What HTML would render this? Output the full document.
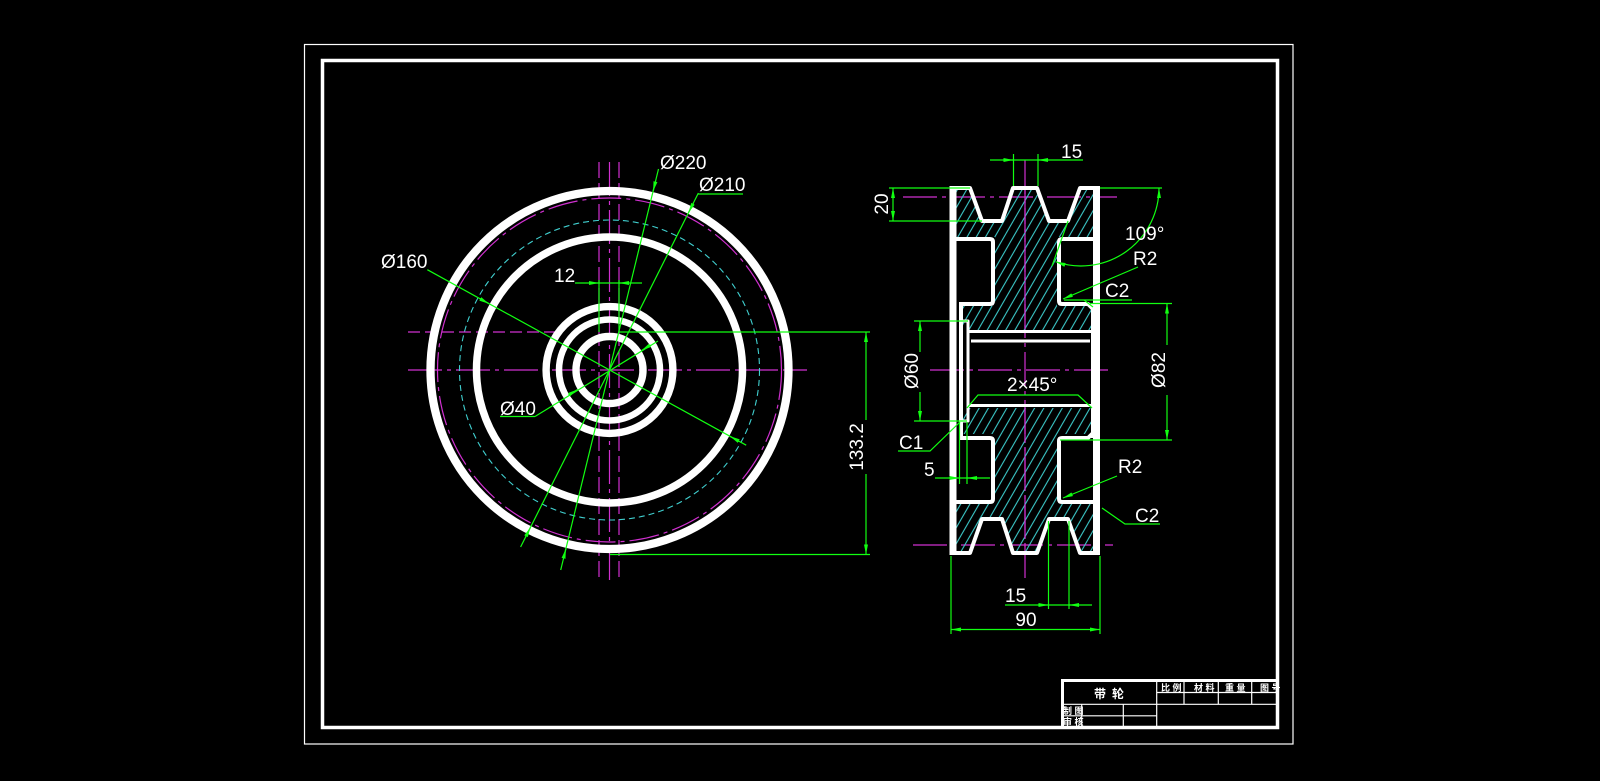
<!DOCTYPE html>
<html><head><meta charset="utf-8"><style>html,body{margin:0;padding:0;background:#000;}svg{display:block;}</style></head>
<body>
<svg width="1600" height="781" viewBox="0 0 1600 781" xmlns="http://www.w3.org/2000/svg">
<defs>
<pattern id="h" patternUnits="userSpaceOnUse" width="8" height="8" patternTransform="rotate(30)"><line x1="4" y1="-1" x2="4" y2="9" stroke="#3cc8c8" stroke-width="1.1"/></pattern>
<marker id="a" viewBox="0 0 10 4" refX="10" refY="2" markerWidth="10" markerHeight="4" markerUnits="userSpaceOnUse" orient="auto-start-reverse"><path d="M0,0L10,2L0,4z" fill="#1f1"/></marker>
</defs>
<rect width="1600" height="781" fill="#000"/>

<!-- frames -->
<rect x="304.5" y="44.5" width="988.5" height="699.5" stroke="#fff" stroke-width="1.2" fill="none"/>
<rect x="322.5" y="60.5" width="955" height="667" stroke="#fff" stroke-width="3.5" fill="none"/>

<!-- ===== LEFT VIEW ===== -->
<g fill="none" stroke="#d030d0" stroke-width="1.2">
<line x1="408" y1="370" x2="807" y2="370" stroke-dasharray="34,5,4,5"/>
<line x1="408" y1="332" x2="557" y2="332" stroke-dasharray="12,5"/>
<line x1="609.5" y1="162" x2="609.5" y2="580" stroke-dasharray="34,5,4,5"/>
<line x1="599" y1="162" x2="599" y2="580" stroke-dasharray="16,5"/>
<line x1="619" y1="162" x2="619" y2="580" stroke-dasharray="16,5"/>
<circle cx="609.5" cy="370" r="172" stroke-dasharray="30,5,4,5"/>
</g>
<circle cx="609.5" cy="370" r="150" fill="none" stroke="#40d0d0" stroke-width="1.1" stroke-dasharray="6,4"/>
<g fill="none" stroke="#fff">
<circle cx="609.5" cy="370" r="179" stroke-width="8.3"/>
<circle cx="609.5" cy="370" r="133" stroke-width="7.5"/>
<circle cx="609.5" cy="370" r="63.4" stroke-width="7.4"/>
<circle cx="609.5" cy="370" r="50.5" stroke-width="6.5"/>
<circle cx="609.5" cy="370" r="33.5" stroke-width="7.4"/>
</g>

<!-- left view dimensions -->
<g fill="none" stroke="#1f1" stroke-width="1.2">
<!-- Ø220 -->
<line x1="658.5" y1="169" x2="560.7" y2="570"/>
<line x1="655.7" y1="180.7" x2="653.1" y2="191.3" marker-end="url(#a)"/>
<line x1="563.3" y1="559.3" x2="565.9" y2="548.7" marker-end="url(#a)"/>
<!-- Ø210 -->
<line x1="698.4" y1="193" x2="520.6" y2="547"/>
<line x1="698" y1="194" x2="743" y2="194"/>
<line x1="693.5" y1="202.8" x2="688.5" y2="212.7" marker-end="url(#a)"/>
<line x1="525.5" y1="537.2" x2="530.5" y2="527.3" marker-end="url(#a)"/>
<!-- Ø160 -->
<line x1="427.3" y1="269.7" x2="746.2" y2="445.2"/>
<line x1="479.9" y1="298.7" x2="489" y2="303.7" marker-end="url(#a)"/>
<line x1="739.1" y1="441.3" x2="730" y2="436.3" marker-end="url(#a)"/>
<!-- Ø40 -->
<line x1="658" y1="341" x2="535" y2="416.5"/>
<line x1="500" y1="416.5" x2="535" y2="416.5"/>
<line x1="650.5" y1="345" x2="641.5" y2="350.5" marker-end="url(#a)"/>
<line x1="568.5" y1="395" x2="577.5" y2="389.5" marker-end="url(#a)"/>
<!-- 12 -->
<line x1="575" y1="283" x2="642" y2="283"/>
<line x1="589" y1="283" x2="599" y2="283" marker-end="url(#a)"/>
<line x1="629" y1="283" x2="619" y2="283" marker-end="url(#a)"/>
<line x1="599" y1="280" x2="599" y2="332"/>
<line x1="619" y1="280" x2="619" y2="332"/>
<!-- 133.2 -->
<line x1="619" y1="332" x2="870" y2="332"/>
<line x1="610" y1="554.5" x2="870" y2="554.5"/>
<line x1="866" y1="332" x2="866" y2="420" marker-start="url(#a)"/>
<line x1="866" y1="474" x2="866" y2="554.5" marker-end="url(#a)"/>
</g>
<g font-family="Liberation Sans, Arial, sans-serif" font-size="19" fill="#fff">
<text x="660" y="169">Ø220</text>
<text x="699" y="191">Ø210</text>
<text x="381" y="268">Ø160</text>
<text x="554" y="282">12</text>
<text x="500" y="415">Ø40</text>
<text transform="translate(863,447) rotate(-90)" text-anchor="middle">133.2</text>
</g>

<!-- ===== RIGHT VIEW ===== -->
<g fill="none" stroke="#d030d0" stroke-width="1.2">
<line x1="1025" y1="160" x2="1025" y2="582" stroke-dasharray="34,5,4,5"/>
<line x1="930" y1="370" x2="1110" y2="370" stroke-dasharray="34,5,4,5"/>
<line x1="903" y1="197" x2="1117" y2="197" stroke-dasharray="34,5,4,5"/>
<line x1="913" y1="545" x2="1113" y2="545" stroke-dasharray="34,5,4,5"/>
</g>
<path d="M955,190 L970,190 L982,221 L1002,221 L1013,190 L1037,190 L1049,221 L1068,221 L1080,190 L1094,190 L1094,237 L1057,237 L1057,306 L1091,306 L1091,330 L963,330 L963,306 L995,306 L995,237 L955,237 Z" fill="url(#h)"/>
<path d="M955,551 L970,551 L982,519 L1002,519 L1013,551 L1037,551 L1049,519 L1068,519 L1080,551 L1094,551 L1094,503 L1057,503 L1057,434 L1091,434 L1091,408 L963,408 L963,434 L995,434 L995,503 L955,503 Z" fill="url(#h)"/>
<line x1="1025" y1="190" x2="1025" y2="330" stroke="#d030d0" stroke-width="1.2" stroke-dasharray="34,5,4,5"/>
<line x1="1025" y1="408" x2="1025" y2="551" stroke="#d030d0" stroke-width="1.2" stroke-dasharray="34,5,4,5"/>
<g fill="none" stroke="#fff" stroke-width="4" stroke-linejoin="round">
<path d="M950,188 L970,188 L982,221 L1002,221 L1013,188 L1037,188 L1049,221 L1068,221 L1080,188 L1100,188"/>
<path d="M950,553 L970,553 L982,519 L1002,519 L1013,553 L1037,553 L1049,519 L1068,519 L1080,553 L1100,553"/>
<line x1="953" y1="186" x2="953" y2="555" stroke-width="7"/>
<line x1="1096.5" y1="186" x2="1096.5" y2="555" stroke-width="7"/>
<path d="M953,239 L990,239 Q993,239 993,242 L993,301 Q993,304 990,304 L961,304"/>
<line x1="961" y1="302" x2="961" y2="440"/>
<path d="M961,438 L990,438 Q993,438 993,441 L993,499 Q993,502 990,502 L953,502"/>
<path d="M1097,239 L1062,239 Q1059,239 1059,242 L1059,301 Q1059,304 1062,304 L1088,304 L1093,309"/>
<path d="M1093,433 L1088,438 L1062,438 Q1059,438 1059,441 L1059,499 Q1059,502 1062,502 L1097,502"/>
<line x1="1093" y1="304" x2="1093" y2="438"/>
<line x1="968" y1="331.5" x2="1093" y2="331.5" stroke-width="3"/>
<line x1="971" y1="341" x2="1090" y2="341" stroke-width="3"/>
<line x1="968" y1="405.5" x2="1093" y2="405.5" stroke-width="3"/>
<path d="M961,321 L968,321 L968,421 L961,421" stroke-width="3"/>
</g>

<!-- right view dimensions -->
<g fill="none" stroke="#1f1" stroke-width="1.2">
<!-- 15 top -->
<line x1="1013.5" y1="154" x2="1013.5" y2="186"/>
<line x1="1038" y1="154" x2="1038" y2="186"/>
<line x1="990" y1="160" x2="1083" y2="160"/>
<line x1="1003" y1="160" x2="1013.5" y2="160" marker-end="url(#a)"/>
<line x1="1048" y1="160" x2="1038" y2="160" marker-end="url(#a)"/>
<!-- 20 -->
<line x1="889" y1="188" x2="970" y2="188"/>
<line x1="889" y1="221" x2="982" y2="221"/>
<line x1="893" y1="188" x2="893" y2="221" marker-start="url(#a)" marker-end="url(#a)"/>
<!-- 109 -->
<line x1="1100" y1="188" x2="1162" y2="188"/>
<path d="M1159,188 A78,78 0 0,1 1055.6,261.7" marker-start="url(#a)" marker-end="url(#a)"/>
<line x1="1068" y1="221" x2="1052" y2="266"/>
<!-- R2 top -->
<line x1="1138" y1="267" x2="1063" y2="299" marker-end="url(#a)"/>
<!-- C2 top -->
<line x1="1064" y1="300" x2="1132" y2="300"/>
<line x1="1084" y1="300" x2="1093" y2="307"/>
<!-- Ø82 -->
<line x1="1090" y1="303.5" x2="1172" y2="303.5"/>
<line x1="1060" y1="440" x2="1172" y2="440"/>
<line x1="1167" y1="303.5" x2="1167" y2="345" marker-start="url(#a)"/>
<line x1="1167" y1="395" x2="1167" y2="440" marker-end="url(#a)"/>
<!-- Ø60 -->
<line x1="914" y1="321" x2="968" y2="321"/>
<line x1="914" y1="421" x2="967" y2="421"/>
<line x1="920" y1="321" x2="920" y2="352" marker-start="url(#a)"/>
<line x1="920" y1="392" x2="920" y2="421" marker-end="url(#a)"/>
<!-- 2x45 -->
<polyline points="967,408 978,395 1078,395 1092,408"/>
<!-- C1 -->
<polyline points="898,451 930,451 960,422"/>
<!-- 5 -->
<line x1="959.5" y1="422" x2="959.5" y2="484"/>
<line x1="967" y1="422" x2="967" y2="484"/>
<line x1="935" y1="478" x2="990" y2="478"/>
<line x1="949" y1="478" x2="959.5" y2="478" marker-end="url(#a)"/>
<line x1="977" y1="478" x2="967" y2="478" marker-end="url(#a)"/>
<!-- R2 bottom -->
<line x1="1117" y1="476" x2="1063" y2="498" marker-end="url(#a)"/>
<!-- C2 bottom -->
<polyline points="1102,508 1125,524 1160,524"/>
<!-- 15 bottom -->
<line x1="1048.5" y1="521" x2="1048.5" y2="609"/>
<line x1="1069" y1="521" x2="1069" y2="609"/>
<line x1="1005" y1="605" x2="1092" y2="605"/>
<line x1="1038" y1="605" x2="1048.5" y2="605" marker-end="url(#a)"/>
<line x1="1079" y1="605" x2="1069" y2="605" marker-end="url(#a)"/>
<!-- 90 -->
<line x1="951" y1="556" x2="951" y2="634"/>
<line x1="1100" y1="556" x2="1100" y2="634"/>
<line x1="951" y1="629.5" x2="1100" y2="629.5" marker-start="url(#a)" marker-end="url(#a)"/>
</g>
<g font-family="Liberation Sans, Arial, sans-serif" font-size="19" fill="#fff">
<text x="1061" y="158">15</text>
<text transform="translate(888,204) rotate(-90)" text-anchor="middle">20</text>
<text x="1125" y="240">109°</text>
<text x="1133" y="265">R2</text>
<text x="1105" y="297">C2</text>
<text transform="translate(1165,370) rotate(-90)" text-anchor="middle">Ø82</text>
<text transform="translate(918,371) rotate(-90)" text-anchor="middle">Ø60</text>
<text x="1007" y="391">2×45°</text>
<text x="899" y="449">C1</text>
<text x="924" y="476">5</text>
<text x="1118" y="473">R2</text>
<text x="1135" y="522">C2</text>
<text x="1005" y="602">15</text>
<text x="1026" y="626" text-anchor="middle">90</text>
</g>

<!-- ===== TITLE BLOCK ===== -->
<g fill="none" stroke="#fff">
<path d="M1062.5,727.5 L1062.5,680.5 L1277.5,680.5" stroke-width="3"/>
<g stroke-width="1.2">
<path d="M1156.7,681 V727.5"/>
<path d="M1156.7,692.5 H1277"/>
<path d="M1062.5,704.3 H1277"/>
<path d="M1062.5,715.8 H1156.7"/>
<path d="M1081.7,704.3 V727.5"/>
<path d="M1123.3,704.3 V727.5"/>
<path d="M1184,681 V704.3"/>
<path d="M1218.3,681 V704.3"/>
<path d="M1251.7,681 V704.3"/>
</g>
</g>
<g font-family="Liberation Sans, Noto Sans CJK SC, sans-serif" fill="#fff" font-weight="bold">
<text x="1094" y="698" font-size="12">带</text>
<text x="1112" y="698" font-size="12">轮</text>
<g font-size="9">
<text x="1161" y="691">比 例</text>
<text x="1194" y="691">材 料</text>
<text x="1225" y="691">重 量</text>
<text x="1260" y="691">图 号</text>
<text x="1063" y="714">制 图</text>
<text x="1063" y="725">审 核</text>
</g>
</g>
</svg>
</body></html>
